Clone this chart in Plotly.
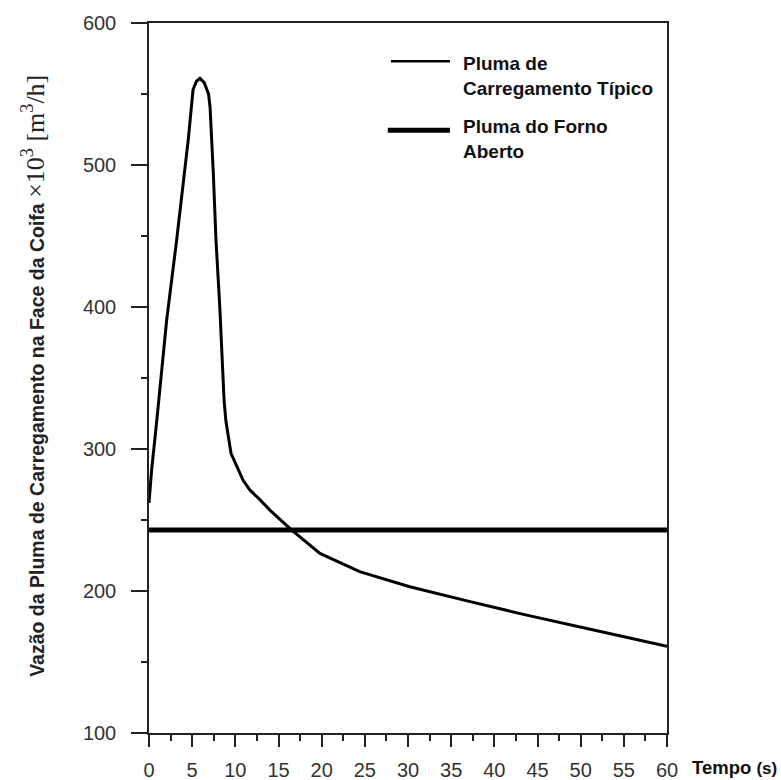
import plotly.graph_objects as go

# ---- data ----
tempo_tipico = [0, 0.3, 0.9, 2.05, 3.2, 4.55, 5.1, 5.5, 5.9, 6.4, 6.9, 7.07, 7.45, 7.76, 8.2,
                8.7, 8.9, 9.5, 10.9, 11.7, 12.9, 14.0, 16.5, 19.8, 24.4, 30.2, 37.2, 43.75,
                51.5, 60]
vazao_tipico = [262, 285, 320, 391, 447, 518, 553, 559, 561, 558, 550, 541, 494, 447, 400,
                334, 320, 297, 278, 271, 264, 257, 243, 226.5, 213.6, 203, 192.5, 183,
                172.5, 161]
tempo_forno = [0, 60]
vazao_forno = [243, 243]

nome_tipico = "Pluma de<br>Carregamento Típico"
nome_forno = "Pluma do Forno<br>Aberto"

x_ticks = list(range(0, 61, 5))
y_ticks = list(range(100, 601, 100))

fig = go.Figure()
fig.add_trace(go.Scatter(x=tempo_tipico, y=vazao_tipico, mode="lines",
                         line=dict(color="black", width=3), name=nome_tipico,
                         showlegend=False))
fig.add_trace(go.Scatter(x=tempo_forno, y=vazao_forno, mode="lines",
                         line=dict(color="black", width=5), name=nome_forno,
                         showlegend=False))

tick_font = dict(family="Liberation Sans Narrow, Arial Narrow, Liberation Sans, Arial",
                 size=20, color="#333")

fig.update_layout(
    width=781, height=780,
    margin=dict(l=149, r=114, t=23, b=47, autoexpand=False),
    paper_bgcolor="white", plot_bgcolor="white",
    showlegend=False,
    xaxis=dict(range=[0, 60], tickvals=x_ticks, ticks="outside", ticklen=12, tickwidth=1.5,
               tickcolor="#222", showline=True, linecolor="#222", linewidth=1.5, mirror=True,
               showgrid=False, zeroline=False, tickfont=tick_font, ticklabelstandoff=6,
               automargin=False,
               minor=dict(dtick=2.5, ticks="outside", ticklen=6, tickwidth=1.5,
                          tickcolor="#222", showgrid=False)),
    yaxis=dict(range=[100, 600], tickvals=y_ticks, ticks="outside", ticklen=16, tickwidth=1.5,
               tickcolor="#222", showline=True, linecolor="#222", linewidth=1.5, mirror=True,
               showgrid=False, zeroline=False, tickfont=tick_font, ticklabelstandoff=11,
               automargin=False,
               minor=dict(dtick=50, ticks="outside", ticklen=6, tickwidth=1.5,
                          tickcolor="#222", showgrid=False)),
)

# y-axis title (bold sans part + serif units)
fig.add_annotation(
    xref="paper", yref="paper", x=-0.222, y=0.503, xanchor="center", yanchor="middle",
    textangle=-90, showarrow=False,
    text=("<b>Vazão da Pluma de Carregamento na Face da Coifa</b> "
          "<span style='font-family:Liberation Serif, Times New Roman, serif;font-size:26px'>"
          "×10<sup>3</sup> [m<sup>3</sup>/h]</span>"),
    font=dict(family="Liberation Sans, Arial", size=19.5, color="#222"))

# x-axis title
fig.add_annotation(
    xref="paper", yref="paper", x=1.2162, y=-0.048, xanchor="right", yanchor="middle",
    showarrow=False,
    text="<b>Tempo</b> <span style='font-size:17px'><b>(s)</b></span>",
    font=dict(family="Liberation Sans, Arial", size=18.5, color="#111"))

# custom legend (long line samples as in the reference)
leg_font = dict(family="Liberation Sans, Arial", size=19, color="#111")
fig.add_shape(type="line", xref="paper", yref="paper", x0=0.467, x1=0.581, y0=0.946, y1=0.946,
              line=dict(color="black", width=2.5))
fig.add_annotation(xref="paper", yref="paper", x=0.602, y=0.926, xanchor="left",
                   yanchor="middle", align="left", showarrow=False,
                   text="<b>" + nome_tipico + "</b>", font=leg_font)
fig.add_shape(type="line", xref="paper", yref="paper", x0=0.461, x1=0.581, y0=0.849, y1=0.849,
              line=dict(color="black", width=5))
fig.add_annotation(xref="paper", yref="paper", x=0.602, y=0.837, xanchor="left",
                   yanchor="middle", align="left", showarrow=False,
                   text="<b>" + nome_forno + "</b>", font=leg_font)

fig.write_html("out.html")
